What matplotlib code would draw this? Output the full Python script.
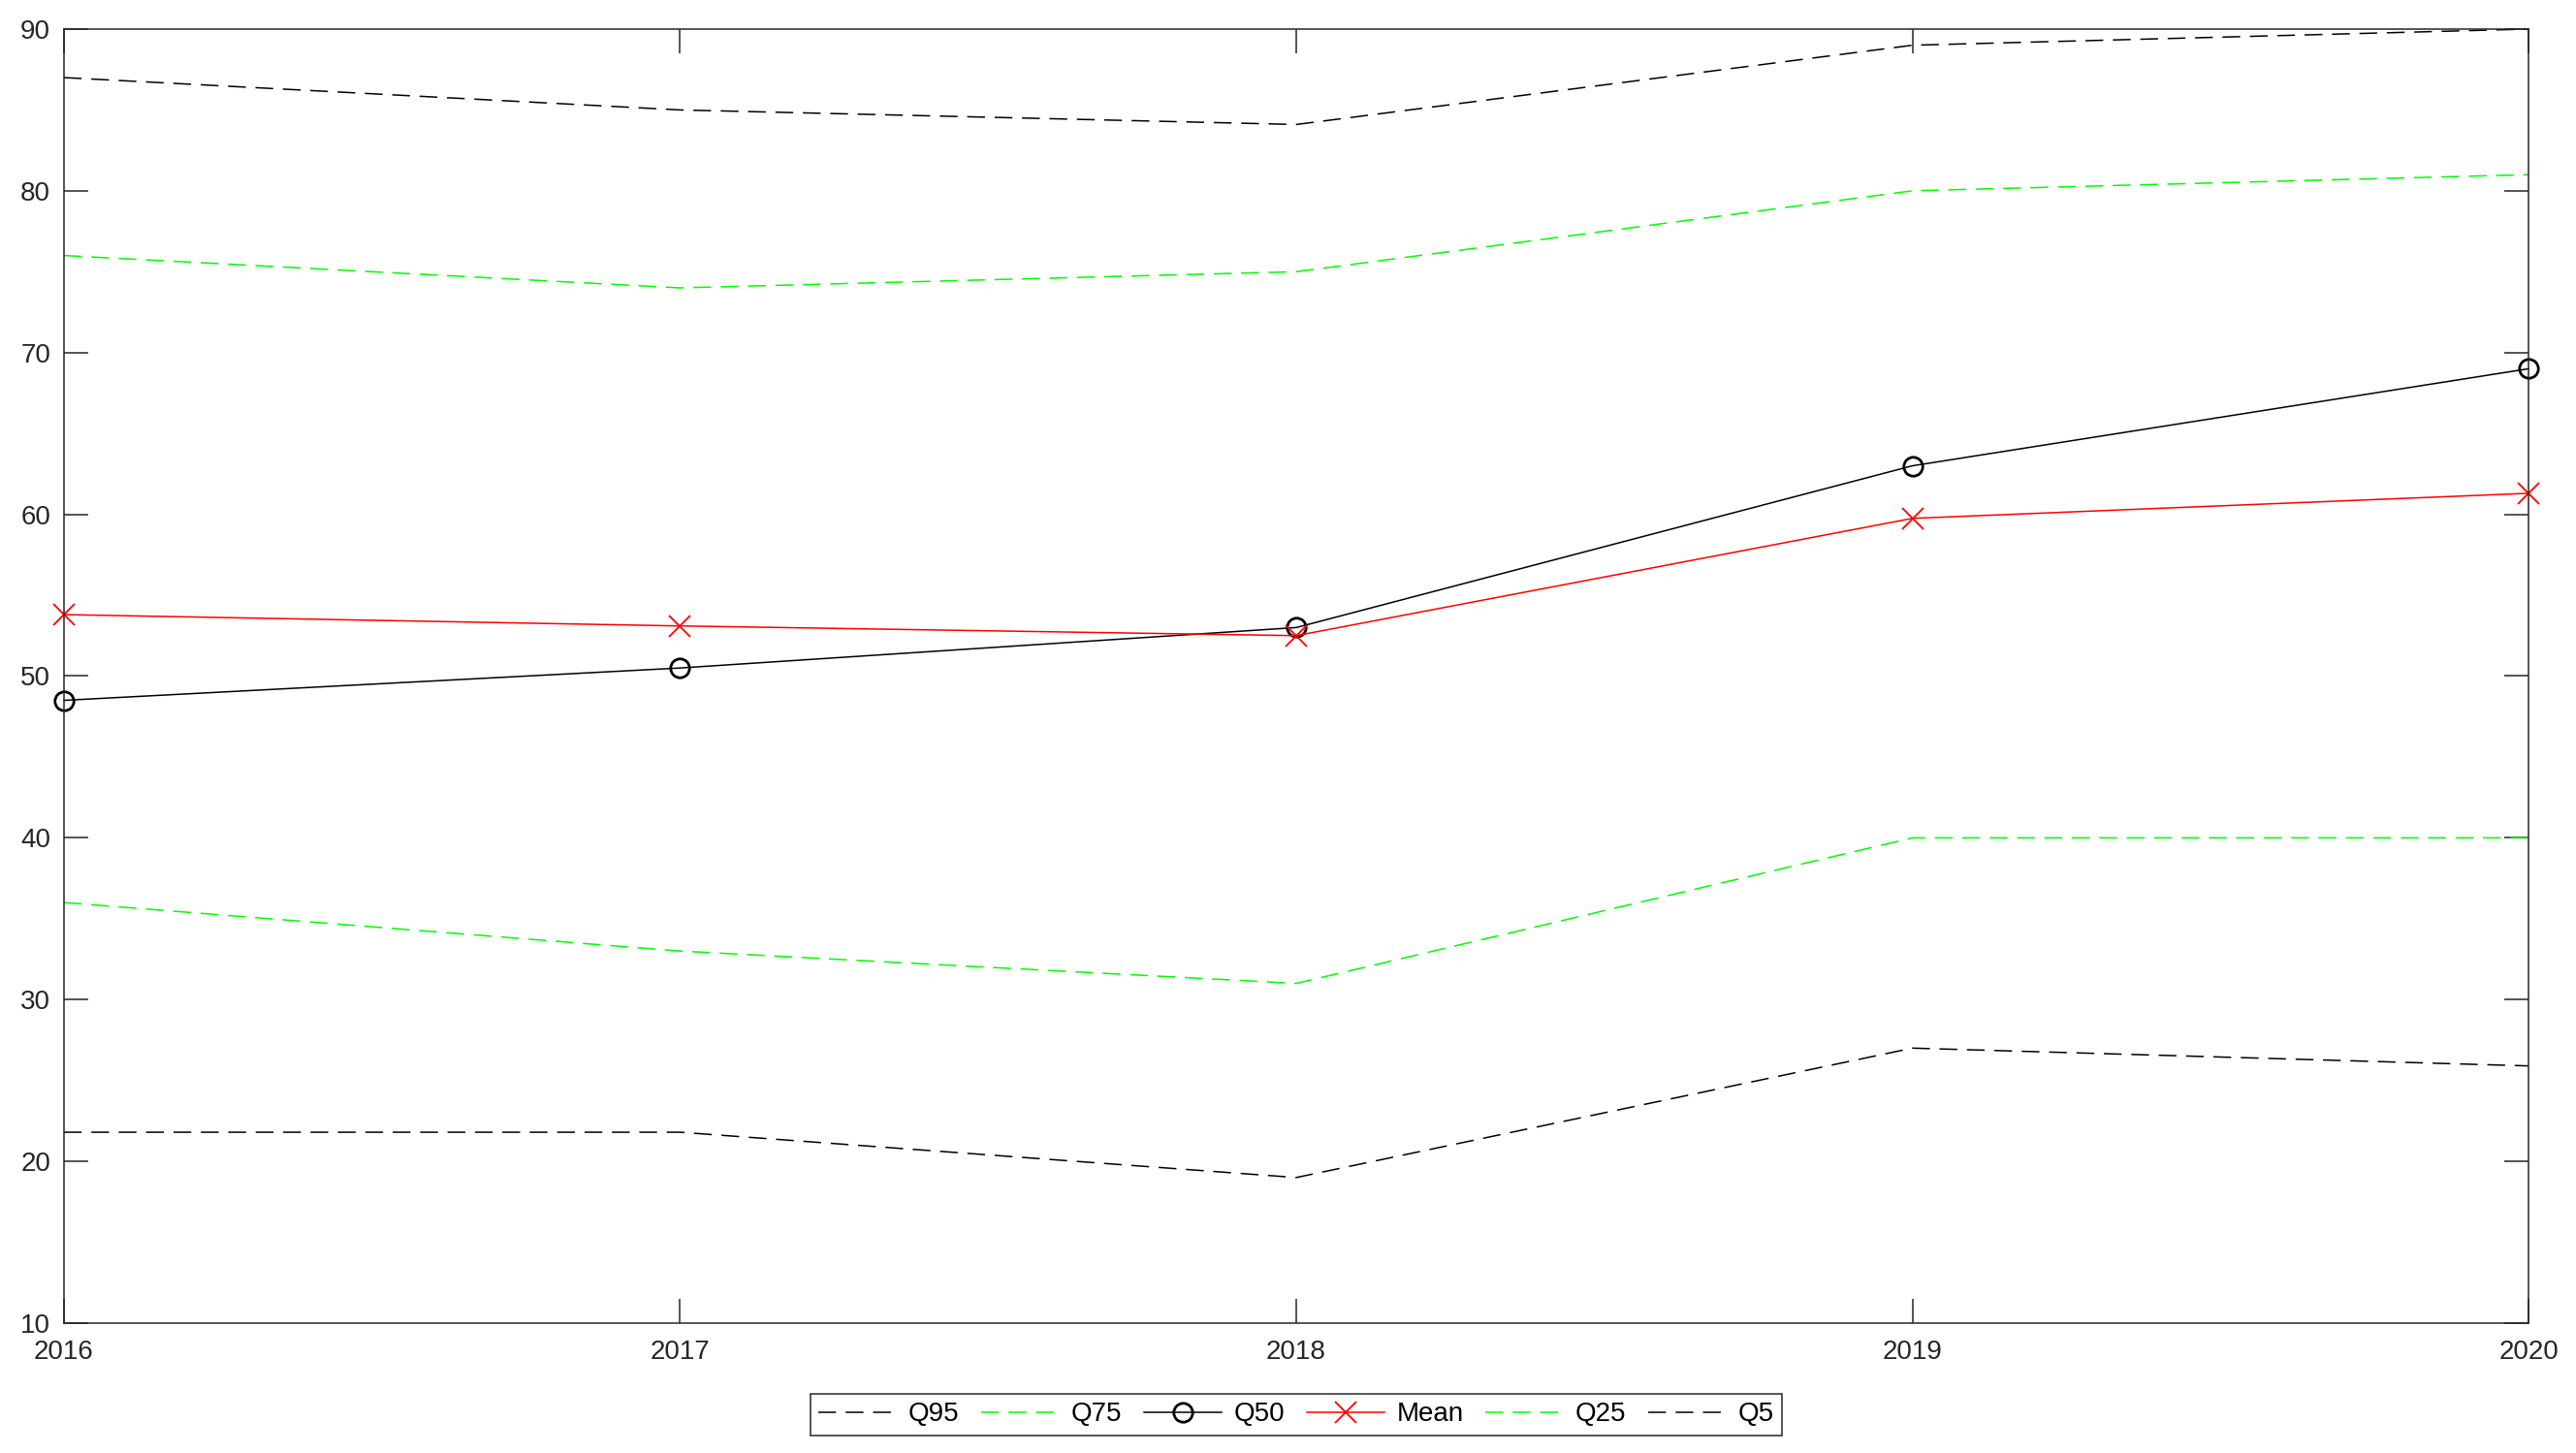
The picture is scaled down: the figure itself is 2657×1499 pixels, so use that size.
import matplotlib.pyplot as plt

plt.rcParams['font.family'] = ['Liberation Sans', 'DejaVu Sans']

years = [2016, 2017, 2018, 2019, 2020]
q95 = [87, 85, 84.1, 89, 90]
q75 = [76, 74, 75, 80, 81]
q50 = [48.5, 50.5, 53, 63, 69]
mean = [53.8, 53.1, 52.5, 59.75, 61.3]
q25 = [36, 33, 31, 40, 40]
q5 = [21.8, 21.8, 19, 27, 25.9]

fig = plt.figure(figsize=(26.57, 14.99), dpi=100)
ax = fig.add_axes([0.0248, 0.0894, 0.9568, 0.8906])

dash = (12, 6.5)
ax.plot(years, q95, color='black', lw=1.1, dashes=dash, label='Q95')
ax.plot(years, q75, color='#00ff00', lw=1.1, dashes=dash, label='Q75')
ax.plot(years, q50, color='black', lw=1.1, marker='o', markersize=14,
        markerfacecolor='none', markeredgewidth=2, label='Q50', clip_on=False)
ax.plot(years, mean, color='red', lw=1.1, marker='x', markersize=16,
        markeredgewidth=1.3, label='Mean', clip_on=False)
ax.plot(years, q25, color='#00ff00', lw=1.1, dashes=dash, label='Q25')
ax.plot(years, q5, color='black', lw=1.1, dashes=dash, label='Q5')

ax.set_xlim(2016, 2020)
ax.set_ylim(10, 90)
ax.set_xticks(years)
ax.set_xticklabels([str(y) for y in years])
ax.set_yticks(range(10, 91, 10))

for s in ax.spines.values():
    s.set_color('#262626')
    s.set_linewidth(1.1)
ax.tick_params(direction='in', length=18, width=1.1, color='#262626',
               labelcolor='#262626', labelsize=20, top=True, right=True)
ax.tick_params(axis='x', pad=12)
ax.tick_params(axis='y', pad=10)

# legend centred under the axes, not the figure
leg = fig.legend(loc='upper center', bbox_to_anchor=(0.5032, 0.0407), ncol=6,
                 fontsize=20, frameon=True, fancybox=False, framealpha=1,
                 edgecolor='#262626', handlelength=2.9, handletextpad=0.45,
                 columnspacing=0.8, borderpad=0.3, borderaxespad=0)
leg.get_frame().set_linewidth(1.1)

fig.savefig('out.png', dpi=100)
